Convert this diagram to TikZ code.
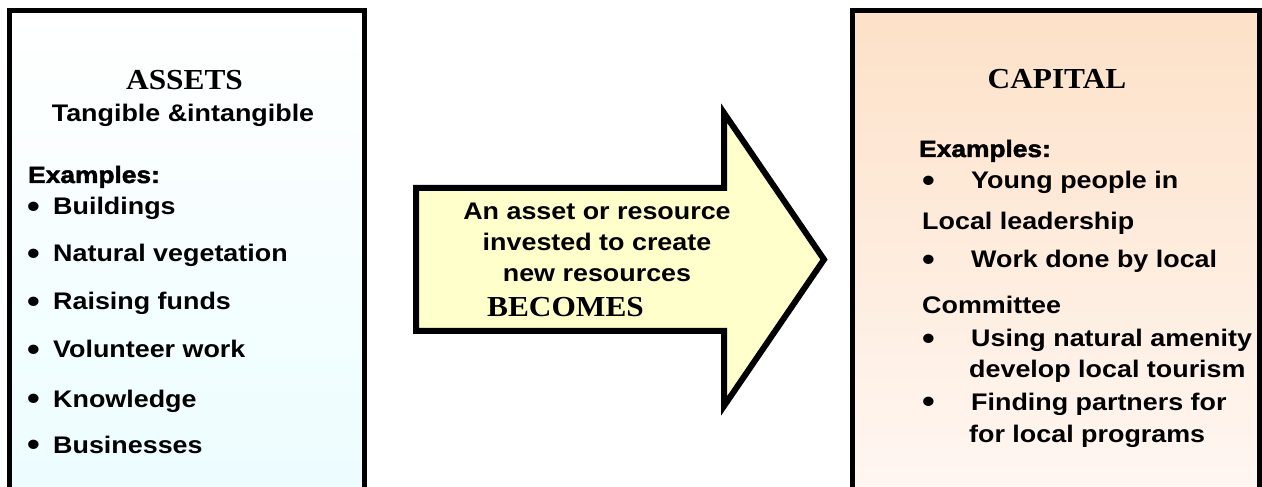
\documentclass[tikz,border=0pt]{standalone}
\usepackage{fontspec}
\usepackage{graphicx}
\setmainfont[FakeStretch=1.12]{Liberation Sans}
\newfontfamily\titlefont[FakeStretch=1.08]{Liberation Serif}
\newfontfamily\headfont[FakeStretch=1.12,BoldFeatures={FakeBold=2}]{Liberation Sans}
\definecolor{assetbot}{RGB}{236,253,255}
\definecolor{captop}{RGB}{253,225,200}
\definecolor{capbot}{RGB}{255,247,243}
\definecolor{arrowfill}{RGB}{255,255,204}
\tikzset{
  panel/.style={draw=black, line width=5bp},
  bodytxt/.style={font=\fontsize{24bp}{28bp}\selectfont\bfseries, anchor=base west, inner sep=0pt},
  arrowtxt/.style={font=\fontsize{24bp}{28bp}\selectfont\bfseries, anchor=base, inner sep=0pt},
  titletxt/.style={font=\titlefont\fontsize{29bp}{32bp}\selectfont\bfseries, anchor=base, inner sep=0pt},
  headtxt/.style={font=\headfont\fontsize{23.5bp}{26bp}\selectfont\bfseries, anchor=base west, inner sep=0pt},
  bigarrow/.style={draw=black, line width=6bp, fill=arrowfill, line join=miter}
}
\newcommand{\bigbul}{\raisebox{-2.6bp}{\scalebox{1.35}{•}}}
\newcommand{\lbul}{\makebox[25bp][l]{\hspace{-1bp}\bigbul}}
\newcommand{\rbul}{\makebox[48bp][l]{\hspace{-1bp}\bigbul}}
\begin{document}
\begin{tikzpicture}[x=1bp,y=1bp]
\useasboundingbox (0,0) rectangle (1262,-487);
\clip (0,0) rectangle (1262,-487);
\fill[white] (0,0) rectangle (1262,-487);
% left panel
\path[panel, top color=white, bottom color=assetbot] (9,-11) rectangle (364.5,-500);
% right panel
\path[panel, top color=captop, bottom color=capbot] (852,-10.5) rectangle (1259,-500);
% arrow
\coordinate (sl) at (416,-188);
\draw[bigarrow] (sl) -- (724,-188) -- (724,-113) -- (824,-259.5) -- (724,-406) -- (724,-331) -- (416,-331) -- cycle;
% arrow text
\node[arrowtxt] (a1) at (597,-220) {An asset or resource};
\node[arrowtxt] (a2) at (597,-251) {invested to create};
\node[arrowtxt] (a3) at (597,-282) {new resources};
\node[titletxt, anchor=base west] (a4) at (487,-317) {BECOMES};
% left text
\node[titletxt] (assets) at (184.5,-90) {ASSETS};
\node[bodytxt, anchor=base] (tang) at (183,-122) {Tangible \&intangible};
\node[headtxt] (exl) at (28,-183) {Examples:};
\node[bodytxt] (l1) at (28,-215) {\lbul Buildings};
\node[bodytxt] (l2) at (28,-262) {\lbul Natural vegetation};
\node[bodytxt] (l3) at (28,-310) {\lbul Raising funds};
\node[bodytxt] (l4) at (28,-358) {\lbul Volunteer work};
\node[bodytxt] (l5) at (28,-407) {\lbul Knowledge};
\node[bodytxt] (l6) at (28,-453) {\lbul Businesses};
% right text
\node[titletxt] (capital) at (1057,-89) {CAPITAL};
\node[headtxt] (exr) at (919,-157) {Examples:};
\node[bodytxt] (r1) at (923,-189) {\rbul Young people in};
\node[bodytxt] (r2) at (922,-230) {Local leadership};
\node[bodytxt] (r3) at (923,-268) {\rbul Work done by local};
\node[bodytxt] (r4) at (922,-314) {Committee};
\node[bodytxt] (r5) at (923,-347) {\rbul Using natural amenity};
\node[bodytxt] (r6) at (969,-378) {develop local tourism};
\node[bodytxt] (r7) at (923,-410) {\rbul Finding partners for};
\node[bodytxt] (r8) at (969,-442) {for local programs};
\end{tikzpicture}
\end{document}
